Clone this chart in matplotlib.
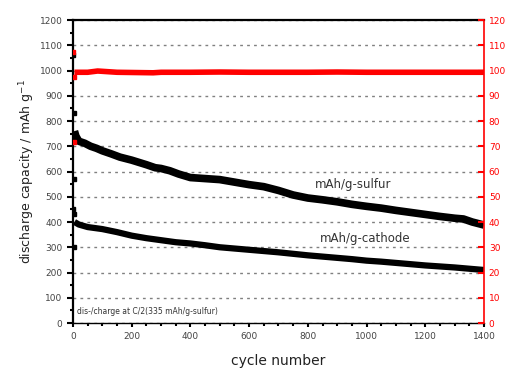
import matplotlib.pyplot as plt
from matplotlib.ticker import MultipleLocator

# discharge capacity, mAh/g-sulfur
sulfur_cyc = [5, 10, 20, 40, 60, 80, 100, 130, 160, 200, 250, 280, 300, 330, 360, 400, 450, 500, 550,
              600, 650, 700, 750, 800, 850, 900, 950, 1000, 1050, 1100, 1150, 1200, 1250, 1300,
              1330, 1360, 1400]
sulfur_cap = [760, 740, 720, 712, 700, 692, 682, 670, 657, 645, 627, 615, 612, 603, 590, 576, 572, 568, 558,
              548, 540, 525, 507, 495, 488, 480, 470, 462, 455, 446, 438, 430, 422, 415,
              412, 400, 388]

# discharge capacity, mAh/g-cathode
cathode_cyc = [5, 20, 50, 100, 150, 200, 250, 300, 350, 400, 450, 500, 550, 600, 650, 700, 750,
               800, 850, 900, 950, 1000, 1050, 1100, 1150, 1200, 1250, 1300, 1350, 1400]
cathode_cap = [400, 390, 380, 372, 360, 346, 336, 328, 320, 315, 308, 300, 295, 290, 285, 280, 274,
               268, 263, 258, 253, 247, 243, 238, 233, 228, 224, 220, 215, 210]

# first cycles
early_cyc = [1, 2, 3]
early_sulfur = [1060, 830, 570]
early_cathode = [450, 430, 300]

# coulombic efficiency, %
ce_cyc = [5, 50, 84, 150, 273, 300, 400, 500, 600, 700, 800, 900, 1000, 1100, 1200, 1300, 1400]
ce_val = [99.3, 99.3, 99.8, 99.3, 99.1, 99.3, 99.3, 99.4, 99.3, 99.3, 99.3, 99.4, 99.3, 99.3, 99.3, 99.3, 99.3]
ce_early_cyc = [1, 2, 3]
ce_early = [107.5, 97.5, 71.5]

red = '#ff0000'

fig = plt.figure(figsize=(5.15, 3.72), dpi=100)
ax = fig.add_axes([0.1417, 0.1317, 0.7981, 0.8145])

ax.plot(sulfur_cyc, sulfur_cap, color='black', lw=5.5, solid_capstyle='butt')
ax.plot(cathode_cyc, cathode_cap, color='black', lw=4.5, solid_capstyle='butt')
ax.plot(early_cyc, early_sulfur, 's', color='black', ms=3)
ax.plot(early_cyc, early_cathode, 's', color='black', ms=3)

ax.set_xlim(0, 1400)
ax.set_ylim(0, 1200)
ax.xaxis.set_major_locator(MultipleLocator(200))
ax.xaxis.set_minor_locator(MultipleLocator(50))
ax.yaxis.set_major_locator(MultipleLocator(100))
ax.yaxis.set_minor_locator(MultipleLocator(50))
ax.grid(axis='y', which='major', color='#808080', ls=(0, (2, 3)), lw=1)
ax.tick_params(axis='y', which='major', direction='out', length=4, width=1.5, labelsize=6.5, labelcolor='#444444')
ax.tick_params(axis='y', which='minor', direction='out', length=2.5, width=1.5)
ax.tick_params(axis='x', which='major', direction='out', length=3, width=1.5, labelsize=6.5, labelcolor='#444444')
ax.tick_params(axis='x', which='minor', direction='out', length=2, width=1.5)
ax.spines['left'].set_linewidth(1.6)
ax.spines['top'].set_linewidth(1.6)
ax.spines['bottom'].set_linewidth(1.0)
ax.spines['right'].set_visible(False)

ax.set_xlabel('cycle number', fontsize=10, color='#222222', labelpad=9)
ax.set_ylabel('discharge capacity / mAh g$^{-1}$', fontsize=9, color='#222222', labelpad=2)

ax.text(824, 547, 'mAh/g-sulfur', fontsize=8.5, color='#333333', va='center')
ax.text(841, 336, 'mAh/g-cathode', fontsize=8.5, color='#333333', va='center')
ax.text(15, 35, 'dis-/charge at C/2(335 mAh/g-sulfur)', fontsize=5.5, color='#333333')

ax2 = ax.twinx()
ax2.plot(ce_cyc, ce_val, color=red, lw=4, solid_capstyle='butt')
ax2.plot(ce_early_cyc, ce_early, 's', color=red, ms=2.5)
ax2.set_ylim(0, 120)
ax2.yaxis.set_major_locator(MultipleLocator(10))
ax2.tick_params(axis='y', direction='in', length=4, width=1.5, color=red, labelsize=6.5, labelcolor=red)
ax2.spines['right'].set_color(red)
ax2.spines['right'].set_linewidth(1.2)
for s in ['left', 'top', 'bottom']:
    ax2.spines[s].set_visible(False)

fig.savefig('out.png', dpi=100)
